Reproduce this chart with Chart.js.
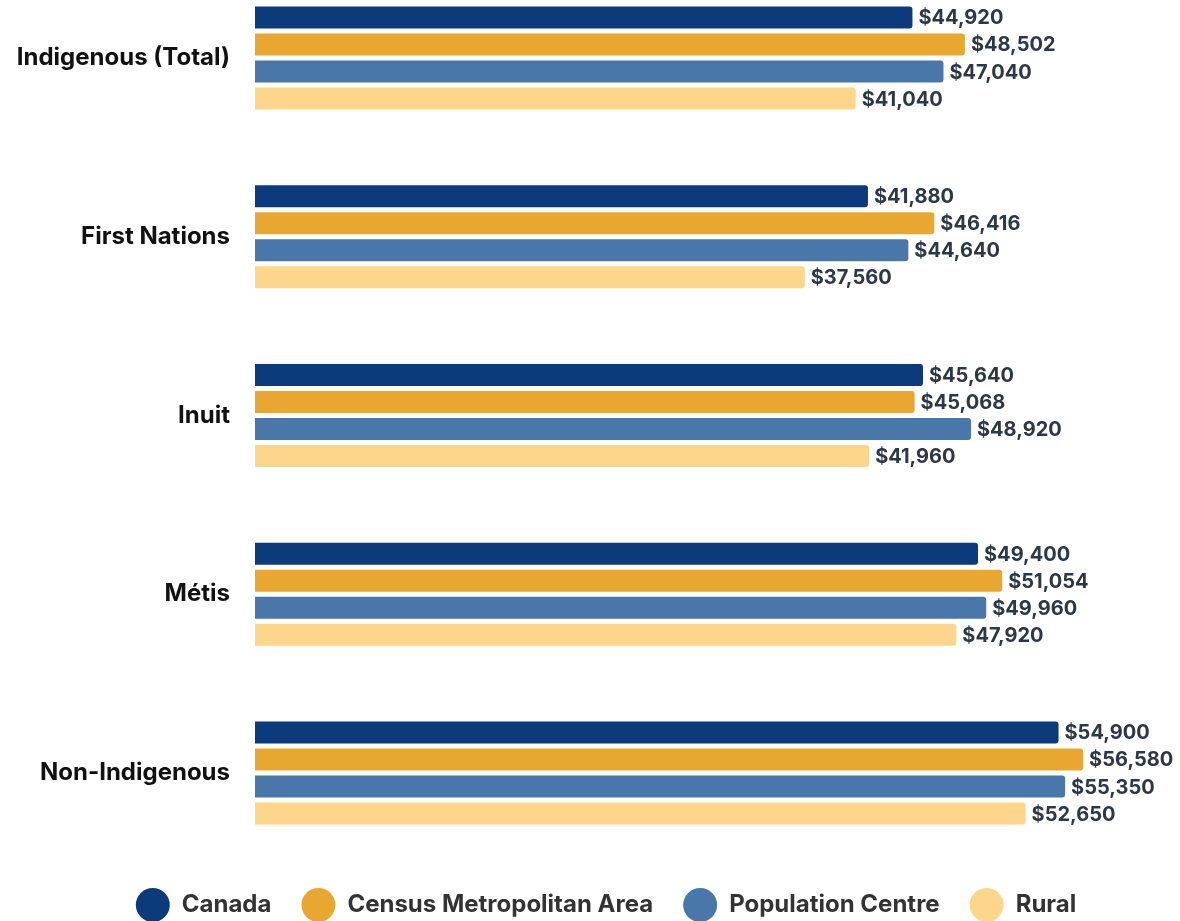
<!DOCTYPE html>
<html lang="en">
  <head>
    <meta charset="UTF-8" />
    <title>Median Income by Region Type</title>
    <style>
      body {
        margin: 0;
        background-color: #ffffff;
        font-family: Inter, Arial, sans-serif;
      }
      .chart-container {
        width: 1180px;
        height: 921px;
        position: relative;
      }
    </style>
  </head>
  <body>
    <div class="chart-container">
      <canvas id="incomeChart"></canvas>
    </div>
    <script src="https://cdn.jsdelivr.net/npm/chart.js"></script>
    <script>
      const groups = ["Indigenous (Total)", "First Nations", "Inuit", "Métis", "Non-Indigenous"];
      const canada = [44920, 41880, 45640, 49400, 54900];
      const metroArea = [48502, 46416, 45068, 51054, 56580];
      const popCentre = [47040, 44640, 48920, 49960, 55350];
      const rural = [41040, 37560, 41960, 47920, 52650];

      const seriesNames = ["Canada", "Census Metropolitan Area", "Population Centre", "Rural"];
      const seriesColors = ["#0b3b7b", "#e8a731", "#4a77aa", "#fdd68b"];

      const fmt = (v) => "$" + v.toLocaleString("en-US");

      // writes the dollar value just past the end of each bar
      const valueLabels = {
        id: "valueLabels",
        afterDatasetsDraw(chart) {
          const ctx = chart.ctx;
          ctx.save();
          ctx.font = "bold 20px Inter";
          ctx.fillStyle = "#2d3846";
          ctx.textAlign = "left";
          ctx.textBaseline = "middle";
          chart.data.datasets.forEach((ds, i) => {
            chart.getDatasetMeta(i).data.forEach((bar, j) => {
              ctx.fillText(fmt(ds.data[j]), bar.x + 6, bar.y + 1);
            });
          });
          ctx.restore();
        },
      };

      // nudge the legend row a little right so it sits under the bars
      const legendShift = {
        id: "legendShift",
        afterLayout(chart) {
          if (chart.legend) chart.legend.left = 32;
        },
      };

      const datasets = [canada, metroArea, popCentre, rural].map((vals, i) => ({
        label: seriesNames[i],
        data: vals,
        backgroundColor: seriesColors[i],
        borderRadius: 3,
        categoryPercentage: 0.605,
        barPercentage: 0.815,
        clip: false,
      }));

      new Chart(document.getElementById("incomeChart"), {
        type: "bar",
        data: { labels: groups, datasets: datasets },
        plugins: [valueLabels, legendShift],
        options: {
          indexAxis: "y",
          responsive: true,
          maintainAspectRatio: false,
          animation: false,
          events: [],
          layout: { padding: { top: 58, left: 0, right: 0, bottom: -6 } },
          scales: {
            x: {
              min: 0,
              max: 63200,
              grid: { display: false, drawTicks: false },
              border: { display: false },
              ticks: { display: false },
              afterFit(scale) {
                scale.height = 90;
              },
            },
            y: {
              offset: false,
              grid: { display: false, drawTicks: false },
              border: { display: false },
              ticks: {
                padding: 25,
                color: "#111111",
                font: { family: "Inter", size: 24, weight: "bold" },
              },
              afterFit(scale) {
                scale.width = 255;
              },
            },
          },
          plugins: {
            tooltip: { enabled: false },
            legend: {
              position: "bottom",
              labels: {
                usePointStyle: true,
                pointStyle: "circle",
                pointStyleWidth: 34,
                padding: 30,
                color: "#333333",
                font: { family: "Inter", size: 24, weight: "bold" },
              },
            },
          },
        },
      });
    </script>
  </body>
</html>
